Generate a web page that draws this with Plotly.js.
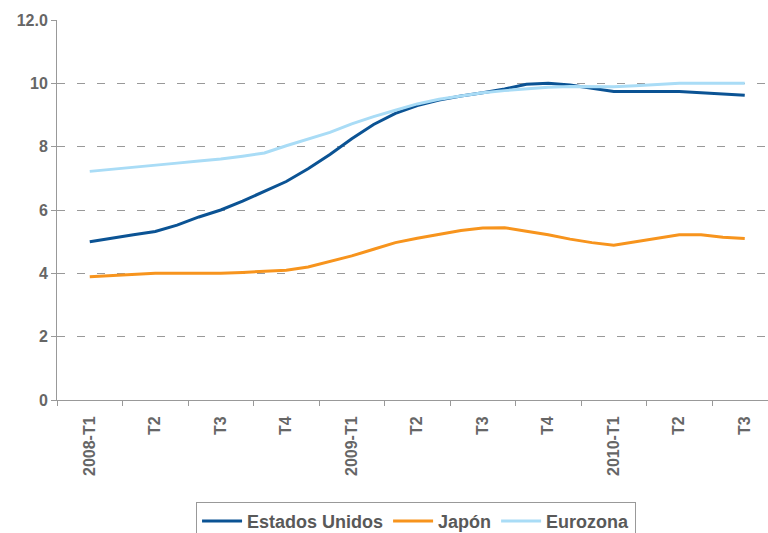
<!DOCTYPE html>
<html>
<head>
<meta charset="utf-8">
<script src="https://cdn.plot.ly/plotly-3.0.1.min.js"></script>
<style>html,body{margin:0;padding:0;background:#fff;}#chart{width:768px;height:533px;}</style>
</head>
<body>
<div id="chart"></div>
<script>
// Quarter categories (x-axis labels)
const quarters = ["2008-T1","T2","T3","T4","2009-T1","T2","T3","T4","2010-T1","T2","T3"];
// Monthly readings, Jan 2008 .. Jul 2010 (31 points; 3 per quarter)
const estadosUnidos = [5.0,5.12,5.22,5.32,5.52,5.78,6.0,6.28,6.58,6.9,7.3,7.75,8.25,8.7,9.05,9.3,9.47,9.6,9.7,9.82,9.97,10.0,9.95,9.85,9.74,9.74,9.74,9.74,9.7,9.66,9.62];
const japon = [3.89,3.93,3.97,4.0,4.0,4.0,4.0,4.03,4.07,4.1,4.2,4.38,4.55,4.76,4.97,5.11,5.24,5.35,5.43,5.44,5.33,5.22,5.08,4.97,4.89,5.0,5.13,5.22,5.22,5.14,5.1];
const eurozona = [7.22,7.28,7.35,7.42,7.48,7.55,7.61,7.7,7.8,8.03,8.25,8.45,8.72,8.95,9.15,9.35,9.5,9.6,9.7,9.77,9.83,9.88,9.9,9.9,9.89,9.92,9.96,10.0,10.0,10.0,10.0];
const yTickVals = [0,2,4,6,8,10,12];
const yTickText = ["0","2","4","6","8","10","12.0"];

const monthPos = estadosUnidos.map((_, i) => i / 3);
const qPos = quarters.map((_, i) => i);

const traces = [
  {x: monthPos, y: estadosUnidos, name: "Estados Unidos", mode: "lines", line: {color: "#0b5394", width: 3}},
  {x: monthPos, y: japon, name: "Japón", mode: "lines", line: {color: "#f7941d", width: 3}},
  {x: monthPos, y: eurozona, name: "Eurozona", mode: "lines", line: {color: "#a9dcf6", width: 3}}
];

const grayText = "#666666";
const layout = {
  width: 768, height: 533,
  margin: {l: 57, r: 0, t: 20, b: 133, autoexpand: false},
  paper_bgcolor: "#ffffff", plot_bgcolor: "#ffffff",
  showlegend: true,
  legend: {
    orientation: "h", x: 0.505, xanchor: "center", y: -0.268, yanchor: "top",
    bordercolor: "#999999", borderwidth: 1, bgcolor: "#ffffff",
    font: {family: "Liberation Sans, Arial, sans-serif", size: 18, color: "#595959", weight: "bold"},
    itemwidth: 40, traceorder: "normal"
  },
  xaxis: {
    type: "linear", range: [-0.5, 10.355], fixedrange: true,
    tickmode: "array", tickvals: qPos, ticktext: quarters,
    tickangle: -90, ticks: "outside", ticklen: 9, tickcolor: "rgba(0,0,0,0)",
    tickfont: {family: "Liberation Sans, Arial, sans-serif", size: 16, color: grayText, weight: "bold"},
    minor: {ticks: "outside", tick0: -0.5, dtick: 1, ticklen: 5, tickcolor: "#999999", tickwidth: 1, showgrid: false},
    showline: true, linecolor: "#999999", linewidth: 1,
    showgrid: false, zeroline: false
  },
  yaxis: {
    range: [0, 12], fixedrange: true,
    tickmode: "array", tickvals: yTickVals, ticktext: yTickText,
    ticks: "outside", ticklen: 5, tickcolor: "#999999",
    tickfont: {family: "Liberation Sans, Arial, sans-serif", size: 16, color: grayText, weight: "bold"},
    showline: true, linecolor: "#999999", linewidth: 1,
    showgrid: true, gridcolor: "#999999", gridwidth: 1, griddash: "8px,12px",
    zeroline: false
  }
};

Plotly.newPlot("chart", traces, layout, {displayModeBar: false, staticPlot: true});
</script>
</body>
</html>
